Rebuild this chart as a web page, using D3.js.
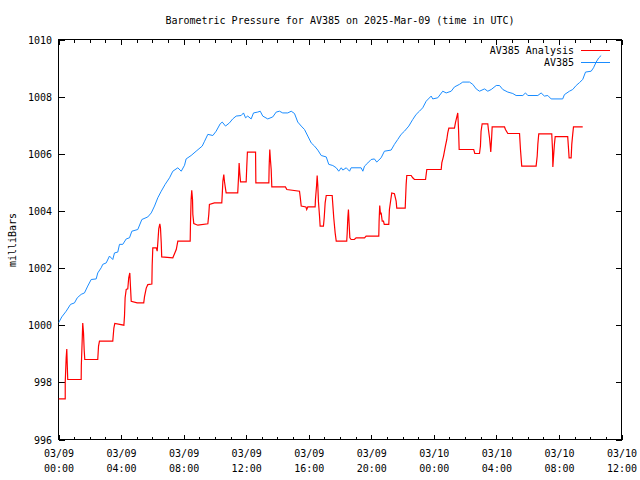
<!DOCTYPE html>
<html>
<head>
<meta charset="utf-8">
<script src="https://cdn.jsdelivr.net/npm/d3@7"></script>
<style>
  html, body { margin: 0; padding: 0; background: #fff; }
  text { font-family: "DejaVu Sans Mono", "Liberation Mono", monospace; font-size: 10px; fill: #000; }
</style>
</head>
<body>
<svg id="chart" width="640" height="480"></svg>
<script>
// ---- data (hours since 2025-03-09 00:00 UTC, millibars) ----
const titleText = "Barometric Pressure for AV385 on 2025-Mar-09 (time in UTC)";
const yLabel = "milliBars";
const seriesNames = ["AV385 Analysis", "AV385"];
const yTicks = [996, 998, 1000, 1002, 1004, 1006, 1008, 1010];

const analysisHours = [0, 0.43, 0.43, 0.49, 0.53, 0.56, 0.59, 1.45, 1.46, 1.52, 1.55, 1.60, 1.64, 1.68,
  2.51, 2.56, 2.62, 3.47, 3.54, 3.60, 4.18, 4.22, 4.26, 4.33, 4.43, 4.49, 4.56, 4.60, 4.65, 5.03,
  5.45, 5.50, 5.61, 5.71, 5.97, 5.99, 6.03, 6.25, 6.31, 6.35, 6.41, 6.48, 6.52, 6.57, 6.60, 7.31,
  7.53, 7.63, 8.42, 8.44, 8.48, 8.52, 8.57, 8.59, 8.65, 8.91, 9.55, 9.61, 9.65, 9.97, 10.44, 10.47,
  10.51, 10.57, 10.61, 10.68, 10.72, 11.46, 11.51, 11.55, 11.59, 11.64, 12.00, 12.04, 12.08, 12.60,
  12.62, 13.45, 13.47, 13.51, 13.55, 13.60, 13.64, 14.51, 14.60, 15.41, 15.45, 15.52, 15.82, 15.87,
  15.94, 16.41, 16.43, 16.50, 16.54, 16.58, 16.62, 16.69, 16.73, 16.94, 16.99, 17.05, 17.12, 17.50,
  17.54, 17.60, 17.69, 17.76, 18.43, 18.46, 18.50, 18.54, 18.59, 18.63, 18.71, 18.92, 19.03, 19.57,
  19.67, 20.48, 20.50, 20.54, 20.59, 20.63, 20.70, 20.78, 20.83, 21.12, 21.16, 21.25, 21.31, 21.48,
  21.59, 21.63, 22.17, 22.19, 22.23, 22.27, 22.55, 22.65, 22.76, 23.47, 23.55, 24.47, 24.51, 24.62,
  24.74, 24.83, 24.89, 24.96, 25.32, 25.38, 25.47, 25.53, 25.58, 25.62, 26.55, 26.62, 26.92, 26.98,
  27.02, 27.09, 27.45, 27.49, 27.56, 27.60, 27.64, 27.69, 27.73, 28.52, 28.58, 28.73, 29.48, 29.54,
  29.62, 30.54, 30.61, 30.65, 30.71, 31.54, 31.59, 31.61, 31.65, 31.71, 31.76, 32.56, 32.61, 32.65,
  32.78, 32.82, 32.88, 32.93, 33.52];
const analysisValues = [997.42, 997.42, 998.0, 998.86, 999.17, 998.62, 998.1, 998.1, 998.6, 999.56, 1000.08, 999.73, 999.15, 998.8,
  998.8, 999.27, 999.44, 999.44, 999.9, 1000.06, 1000.0, 1000.32, 1000.96, 1001.25, 1001.27, 1001.66, 1001.83, 1001.37, 1000.84, 1000.78,
  1000.78, 1001.0, 1001.3, 1001.42, 1001.44, 1002.09, 1002.71, 1002.71, 1002.59, 1002.88, 1003.37, 1003.55, 1003.41, 1002.88, 1002.39, 1002.36,
  1002.65, 1002.94, 1002.94, 1003.58, 1004.4, 1004.72, 1004.4, 1003.88, 1003.56, 1003.5, 1003.55, 1003.88, 1004.23, 1004.28, 1004.28, 1004.57,
  1005.04, 1005.27, 1005.04, 1004.77, 1004.63, 1004.63, 1005.16, 1005.68, 1005.33, 1005.02, 1005.02, 1005.57, 1006.06, 1006.06,
  1004.98, 1004.98, 1005.57, 1006.15, 1005.8, 1005.45, 1004.84, 1004.84, 1004.75, 1004.69, 1004.52, 1004.17, 1004.14, 1004.05,
  1004.14, 1004.14, 1004.4, 1004.87, 1005.24, 1004.9, 1004.34, 1003.82, 1003.47, 1003.47, 1003.76, 1004.28, 1004.54, 1004.54,
  1004.23, 1003.76, 1003.23, 1002.94, 1002.94, 1003.23, 1003.76, 1004.05, 1003.47, 1003.06, 1003.0, 1003.0, 1003.06, 1003.06,
  1003.12, 1003.12, 1003.64, 1004.19, 1003.88, 1003.94, 1003.64, 1003.64, 1003.53, 1003.53, 1004.05, 1004.4, 1004.63, 1004.6,
  1004.34, 1004.1, 1004.1, 1004.4, 1004.93, 1005.24, 1005.24, 1005.16, 1005.1, 1005.1, 1005.45, 1005.45, 1005.68, 1005.92,
  1006.27, 1006.5, 1006.73, 1006.9, 1006.9, 1007.08, 1007.29, 1007.43, 1006.85, 1006.15, 1006.15, 1006.01, 1006.01, 1006.27,
  1006.79, 1007.05, 1007.05, 1006.85, 1006.56, 1006.33, 1006.06, 1006.5, 1006.94, 1006.94, 1006.85, 1006.71, 1006.71, 1006.15,
  1005.57, 1005.57, 1005.92, 1006.33, 1006.7, 1006.7, 1006.13, 1005.54, 1005.86, 1006.33, 1006.6, 1006.6, 1006.2, 1005.86,
  1005.86, 1006.33, 1006.68, 1006.94, 1006.94];

const stationHours = [0, 0.21, 0.49, 0.77, 1.02, 1.20, 1.45, 1.66, 1.87, 2.09, 2.41, 2.51, 2.73, 2.83, 3.05, 3.26,
  3.47, 3.58, 3.79, 3.90, 4.11, 4.33, 4.54, 4.69, 5.07, 5.33, 5.71, 5.93, 6.14, 6.35, 6.57, 6.82,
  7.10, 7.31, 7.63, 7.85, 8.06, 8.16, 8.48, 8.80, 9.19, 9.34, 9.55, 9.87, 10.08, 10.34, 10.47, 10.68,
  10.93, 11.14, 11.36, 11.68, 11.83, 11.96, 12.10, 12.32, 12.47, 12.74, 12.90, 13.06, 13.38, 13.70,
  13.92, 14.13, 14.34, 14.66, 14.88, 15.09, 15.30, 15.52, 15.73, 15.94, 16.16, 16.37, 16.58, 16.80,
  17.12, 17.28, 17.54, 17.76, 17.92, 18.08, 18.18, 18.40, 18.61, 18.71, 19.35, 19.46, 19.57, 19.78,
  19.99, 20.20, 20.35, 20.63, 20.84, 21.27, 21.48, 21.69, 21.91, 22.12, 22.40, 22.65, 22.87, 23.08,
  23.29, 23.51, 23.83, 23.93, 24.25, 24.57, 24.79, 25.11, 25.32, 25.64, 25.85, 26.28, 26.49, 26.71,
  26.92, 27.24, 27.45, 27.67, 27.99, 28.20, 28.41, 28.73, 29.05, 29.26, 29.69, 29.86, 30.01, 30.65,
  30.86, 31.07, 31.29, 31.50, 32.24, 32.35, 32.67, 32.88, 33.10, 33.31, 33.52, 33.70, 34.06, 34.21,
  34.38, 34.55, 34.70];
const stationValues = [1000.08, 1000.29, 1000.49, 1000.73, 1000.78, 1000.96, 1001.08, 1001.13, 1001.37, 1001.6, 1001.62, 1001.83, 1002.01, 1002.13, 1002.18, 1002.42,
  1002.3, 1002.53, 1002.56, 1002.83, 1002.83, 1003.02, 1003.06, 1003.29, 1003.35, 1003.7, 1003.79, 1003.93, 1004.17, 1004.46, 1004.69, 1004.93,
  1005.16, 1005.39, 1005.51, 1005.39, 1005.6, 1005.82, 1005.94, 1006.09, 1006.27, 1006.44, 1006.68, 1006.64, 1006.79, 1007.05, 1007.11, 1006.97,
  1007.08, 1007.22, 1007.32, 1007.34, 1007.43, 1007.26, 1007.32, 1007.22, 1007.43, 1007.46, 1007.49, 1007.32, 1007.22, 1007.29,
  1007.46, 1007.49, 1007.43, 1007.43, 1007.49, 1007.41, 1007.11, 1006.97, 1006.85, 1006.62, 1006.38, 1006.27, 1006.13, 1005.94,
  1005.89, 1005.63, 1005.59, 1005.51, 1005.39, 1005.51, 1005.43, 1005.51, 1005.39, 1005.51, 1005.51, 1005.39, 1005.57, 1005.68,
  1005.8, 1005.82, 1005.71, 1005.86, 1006.09, 1006.13, 1006.33, 1006.5, 1006.68, 1006.79, 1006.97, 1007.2, 1007.38, 1007.49,
  1007.61, 1007.84, 1008.02, 1007.92, 1007.96, 1008.19, 1008.13, 1008.19, 1008.34, 1008.43, 1008.51, 1008.51, 1008.43, 1008.27,
  1008.19, 1008.27, 1008.19, 1008.25, 1008.39, 1008.39, 1008.25, 1008.16, 1008.11, 1008.04, 1008.04, 1008.13, 1008.04, 1008.04,
  1008.13, 1008.02, 1008.04, 1007.92, 1007.92, 1008.07, 1008.19, 1008.25, 1008.39, 1008.49, 1008.6, 1008.86, 1008.89, 1009.01,
  1009.21, 1009.36, 1009.44];

// ---- chart ----
const pLeft = 58.5, pRight = 621.5, pTop = 39.5, pBottom = 439.5;
const t0 = Date.UTC(2025, 2, 9, 0, 0);
const toDate = h => new Date(t0 + h * 3600e3);

const svg = d3.select("#chart");
const x = d3.scaleUtc().domain([toDate(0), toDate(36)]).range([pLeft, pRight]);
const y = d3.scaleLinear().domain([996, 1010]).range([pBottom, pTop]);

const majorX = d3.utcHour.every(4).range(toDate(0), toDate(36.01));
const minorX = d3.utcHour.every(1).range(toDate(0), toDate(36.01));

function styleAxis(g) {
  g.select(".domain").remove();
  g.selectAll(".tick line").attr("stroke", "#000").attr("shape-rendering", "crispEdges");
}

// bottom minor + major
svg.append("g").attr("transform", `translate(0,${pBottom})`)
  .call(d3.axisBottom(x).tickValues(minorX).tickSizeInner(-3).tickSizeOuter(0).tickFormat(""))
  .call(styleAxis).selectAll("text").remove();
const bx = svg.append("g").attr("transform", `translate(0,${pBottom})`)
  .call(d3.axisBottom(x).tickValues(majorX).tickSizeInner(-5).tickSizeOuter(0).tickFormat(""))
  .call(styleAxis);
bx.selectAll(".tick text").remove();
bx.selectAll(".tick").each(function(d) {
  const g = d3.select(this);
  g.append("text").attr("y", 17.5).attr("text-anchor", "middle").text(d3.utcFormat("%m/%d")(d));
  g.append("text").attr("y", 32.5).attr("text-anchor", "middle").text(d3.utcFormat("%H:%M")(d));
});

// top minor + major
svg.append("g").attr("transform", `translate(0,${pTop})`)
  .call(d3.axisTop(x).tickValues(minorX).tickSizeInner(-3).tickSizeOuter(0).tickFormat(""))
  .call(styleAxis).selectAll("text").remove();
svg.append("g").attr("transform", `translate(0,${pTop})`)
  .call(d3.axisTop(x).tickValues(majorX).tickSizeInner(-5).tickSizeOuter(0).tickFormat(""))
  .call(styleAxis).selectAll("text").remove();

// left
const ly = svg.append("g").attr("transform", `translate(${pLeft},0)`)
  .call(d3.axisLeft(y).tickValues(yTicks).tickSizeInner(-6).tickSizeOuter(0).tickFormat(d3.format("d")))
  .call(styleAxis);
ly.selectAll(".tick text").attr("x", -6.5).attr("dy", "0.35em").attr("text-anchor", "end");

// right
svg.append("g").attr("transform", `translate(${pRight},0)`)
  .call(d3.axisRight(y).tickValues(yTicks).tickSizeInner(-6).tickSizeOuter(0).tickFormat(""))
  .call(styleAxis).selectAll("text").remove();

// border
svg.append("rect").attr("x", pLeft).attr("y", pTop)
  .attr("width", pRight - pLeft).attr("height", pBottom - pTop)
  .attr("fill", "none").attr("stroke", "#000").attr("stroke-width", 1)
  .attr("shape-rendering", "crispEdges");

// lines
const line = d3.line().x(d => x(toDate(d[0]))).y(d => y(d[1]));
const analysisData = analysisHours.map((h, i) => [h, analysisValues[i]]);
const stationData = stationHours.map((h, i) => [h, stationValues[i]]);
svg.append("clipPath").attr("id", "clip").append("rect")
  .attr("x", pLeft).attr("y", pTop).attr("width", pRight - pLeft).attr("height", pBottom - pTop);

svg.append("path").datum(analysisData).attr("d", line)
  .attr("fill", "none").attr("stroke", "#ff0000").attr("stroke-width", 1.2)
  .attr("clip-path", "url(#clip)");
svg.append("path").datum(stationData).attr("d", line)
  .attr("fill", "none").attr("stroke", "#1a8cff").attr("stroke-width", 1)
  .attr("clip-path", "url(#clip)");

// legend
const legendColors = ["#ff0000", "#1a8cff"];
const legendY = [50.5, 62.5];
seriesNames.forEach((name, i) => {
  svg.append("text").attr("x", 574).attr("y", legendY[i]).attr("dy", "0.35em")
    .attr("text-anchor", "end").text(name);
  svg.append("line").attr("x1", 581).attr("x2", 610).attr("y1", legendY[i]).attr("y2", legendY[i])
    .attr("stroke", legendColors[i]).attr("stroke-width", 1);
});

// title & y label
svg.append("text").attr("x", 340).attr("y", 20).attr("dy", "0.35em")
  .attr("text-anchor", "middle").text(titleText);
svg.append("text").attr("transform", "translate(12,240) rotate(-90)")
  .attr("dy", "0.35em").attr("text-anchor", "middle").text(yLabel);
</script>
</body>
</html>
